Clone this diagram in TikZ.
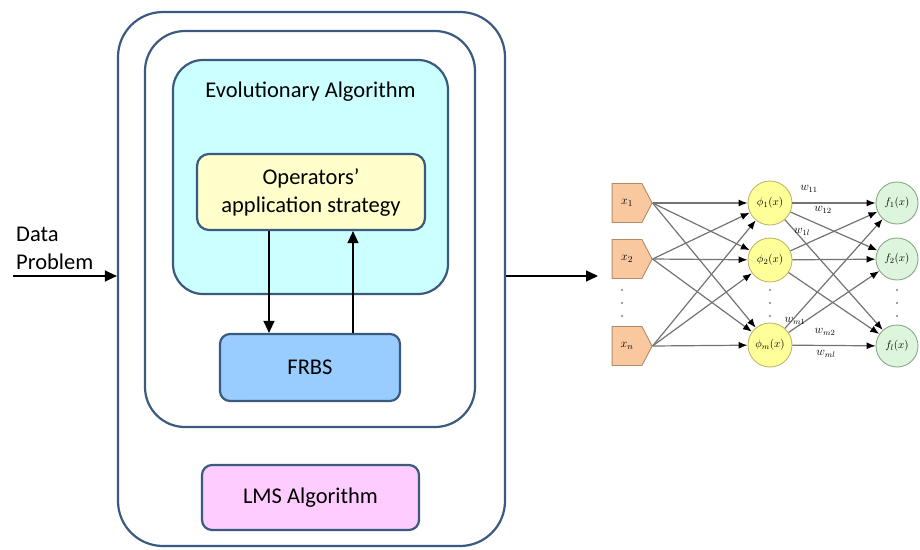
\documentclass[tikz,border=0pt]{standalone}
\usepackage{fontspec}
\setmainfont{Carlito}
\usetikzlibrary{arrows.meta,shapes.symbols}
\definecolor{boxline}{HTML}{3A5A80}
\definecolor{cyanfill}{HTML}{CCFFFF}
\definecolor{opfill}{HTML}{FFFFCC}
\definecolor{frbsfill}{HTML}{99CCFF}
\definecolor{lmsfill}{HTML}{FFCCFF}
\definecolor{peach}{HTML}{F9C89E}
\definecolor{peachd}{HTML}{B38A66}
\definecolor{phifill}{HTML}{FFFF99}
\definecolor{phid}{HTML}{BFB86A}
\definecolor{ffill}{HTML}{DDF5DD}
\definecolor{fd}{HTML}{88A888}
\definecolor{edgegray}{HTML}{737373}
\begin{document}
\begin{tikzpicture}[x=1pt,y=-1pt,
  box/.style={draw=boxline, line width=2.2pt, inner sep=0pt},
  txt/.style={font=\fontsize{22.5}{28}\selectfont, align=center, inner sep=0pt},
  arr/.style={line width=1.3pt, -{Triangle[length=12pt,width=11pt]}},
  inp/.style={signal, signal to=east, signal pointer angle=125, fill=peach, draw=peachd, line width=0.9pt,
     minimum width=40pt, minimum height=39pt, inner sep=0pt, font=\fontsize{13}{14}\selectfont},
  phin/.style={circle, fill=phifill, draw=phid, line width=0.9pt, minimum size=44pt, inner sep=0pt, font=\fontsize{11}{12}\selectfont},
  fn/.style={circle, fill=ffill, draw=fd, line width=0.9pt, minimum size=42pt, inner sep=0pt, font=\fontsize{11}{12}\selectfont},
  nnarr/.style={draw=edgegray, line width=1.2pt, -{Latex[length=9pt,width=7pt,color=black]}},
  wl/.style={font=\fontsize{12}{13}\selectfont, inner sep=0pt},
  dotn/.style={circle, fill=gray, inner sep=0pt, minimum size=2.2pt}
]
\useasboundingbox (0,0) rectangle (920,549);
% left block
\node[box, rounded corners=45pt, minimum width=387pt, minimum height=534pt] (outer) at (311.5,279) {};
\node[box, rounded corners=40pt, minimum width=330pt, minimum height=396pt] (middle) at (310,229) {};
\node[box, fill=cyanfill, rounded corners=30pt, minimum width=275pt, minimum height=234pt] (evo) at (310.5,177) {};
\node[txt] (evotxt) at (310.5,92) {Evolutionary Algorithm};
\node[box, fill=opfill, rounded corners=12pt, minimum width=228pt, minimum height=76pt] (op) at (311,192) {};
\node[txt] (optxt) at (311,192) {Operators’\\application strategy};
\node[box, fill=frbsfill, rounded corners=10pt, minimum width=180pt, minimum height=67pt] (frbs) at (310,367.5) {};
\node[txt] (frbstxt) at (310,367.5) {FRBS};
\node[box, fill=lmsfill, rounded corners=10pt, minimum width=217pt, minimum height=65pt] (lms) at (310.5,497.5) {};
\node[txt] (lmstxt) at (310.5,497.5) {LMS Algorithm};
\draw[arr] ([xshift=-42pt]op.south) -- ([xshift=-42pt]op.south |- frbs.north);
\draw[arr] ([xshift=42pt]op.south |- frbs.north) -- ([xshift=42pt]op.south);
% input
\node[txt, anchor=base west] (data) at (16,241) {Data};
\node[txt, anchor=base west] (prob) at (16,269) {Problem};
\coordinate (din) at (13,276);
\draw[arr] (din) -- (din -| outer.west);
\coordinate (nnin) at (598,276);
\draw[arr] (nnin -| outer.east) -- (nnin);
% network
\node[inp] (x1) at (627,203) {$x_1$};
\node[inp] (x2) at (627,259) {$x_2$};
\node[inp] (xn) at (627,346) {$x_n$};
\node[phin] (p1) at (770,203) {$\phi_1(x)$};
\node[phin] (p2) at (770,260) {$\phi_2(x)$};
\node[phin] (pm) at (770,345) {$\phi_m(x)$};
\node[fn] (f1) at (897,203) {$f_1(x)$};
\node[fn] (f2) at (897,259) {$f_2(x)$};
\node[fn] (fl) at (897,346) {$f_l(x)$};
\foreach \i in {x1,x2,xn}
  \foreach \j in {p1,p2,pm}
    \draw[nnarr] (\i.east) -- (\j);
\foreach \i in {p1,p2,pm}
  \foreach \j in {f1,f2,fl}
    \draw[nnarr] (\i) -- (\j);
\foreach \xx/\nm in {622/a,770/b,897/c}{
  \node[dotn] (dd\nm1) at (\xx,290) {};
  \node[dotn] (dd\nm2) at (\xx,303) {};
  \node[dotn] (dd\nm3) at (\xx,316) {};
}
\node[wl] (w11) at (809,189) {$w_{11}$};
\node[wl] (w12) at (823,210) {$w_{12}$};
\node[wl] (w1l) at (802,232) {$w_{1l}$};
\node[wl] (wm1) at (795,321) {$w_{m1}$};
\node[wl] (wm2) at (825,332) {$w_{m2}$};
\node[wl] (wml) at (826,354) {$w_{ml}$};
\end{tikzpicture}
\end{document}
